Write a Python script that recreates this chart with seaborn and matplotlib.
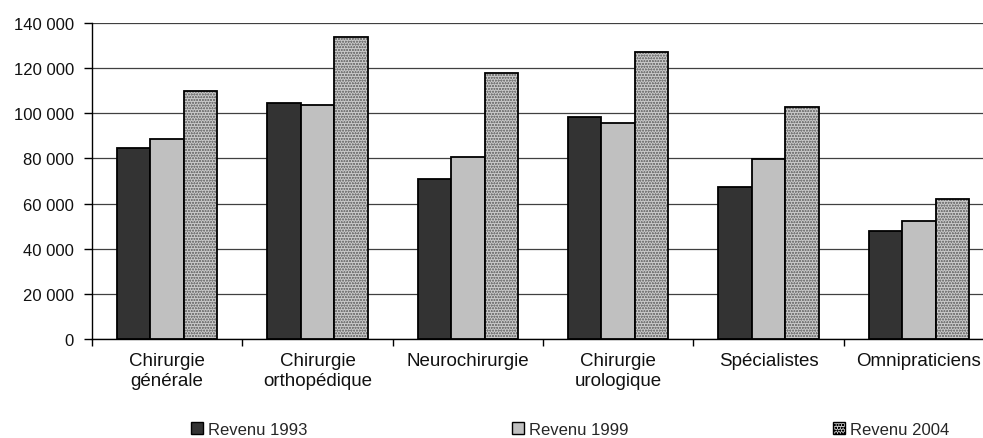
import matplotlib
matplotlib.use("Agg")
import matplotlib.pyplot as plt
from matplotlib.patches import Rectangle
from matplotlib.ticker import FuncFormatter, FixedLocator
import seaborn as sns
import pandas as pd

# Revenus moyens par catégorie de médecins
categories = ["Chirurgie\ngénérale", "Chirurgie\northopédique", "Neurochirurgie",
              "Chirurgie\nurologique", "Spécialistes", "Omnipraticiens"]
series = ["Revenu 1993", "Revenu 1999", "Revenu 2004"]
revenu_1993 = [84500, 104700, 71000, 98500, 67500, 48000]
revenu_1999 = [88800, 103800, 80800, 95800, 79800, 52300]
revenu_2004 = [110000, 134000, 118000, 127200, 103000, 62000]
y_ticks = [0, 20000, 40000, 60000, 80000, 100000, 120000, 140000]

df = pd.DataFrame({
    "categorie": categories * 3,
    "serie": [s for s in series for _ in categories],
    "revenu": revenu_1993 + revenu_1999 + revenu_2004,
})

sns.set_theme(style="white")
plt.rcParams["font.family"] = ["Liberation Sans", "DejaVu Sans"]
plt.rcParams["hatch.linewidth"] = 0.5

fig = plt.figure(figsize=(9.83, 4.39), dpi=100)
ax = fig.add_axes([0.0936, 0.2255, 0.9176, 0.7198])

colors = ["#333333", "#c0c0c0", "#b4b4b4"]
sns.barplot(data=df, x="categorie", y="revenu", hue="serie", palette=colors,
            order=categories, hue_order=series, width=0.667, gap=0,
            edgecolor="black", linewidth=1.3, saturation=1, ax=ax, legend=False,
            zorder=3)

# Fine dotted texture on the 2004 bars, outline drawn on top
for bar in ax.containers[2]:
    bar.set_facecolor("#c8c8c8")
    bar.set_edgecolor("#7a7a7a")
    bar.set_hatch("oooooo")
    bar.set_linewidth(0)
    x, y = bar.get_xy()
    ax.add_patch(Rectangle((x, y), bar.get_width(), bar.get_height(),
                           fill=False, edgecolor="black", linewidth=1.3, zorder=4))

ax.set_ylim(0, 140000)
ax.set_xlim(-0.5, len(categories) - 0.5)
ax.yaxis.set_major_locator(FixedLocator(y_ticks))
ax.yaxis.set_major_formatter(FuncFormatter(lambda v, p: f"{v:,.0f}".replace(",", " ")))
ax.grid(axis="y", color="#404040", linewidth=0.9, zorder=0)
ax.set_axisbelow(True)

ax.set_xlabel("")
ax.set_ylabel("")
ax.set_xticks(range(len(categories)))
ax.set_xticklabels(categories, fontsize=13.5, color="#111111", linespacing=1.3)
ax.set_xticks([i - 0.5 for i in range(len(categories) + 1)], minor=True)
ax.tick_params(axis="x", which="major", length=0, pad=9)
ax.tick_params(axis="x", which="minor", length=5, width=1, color="black", direction="out", bottom=True)
ax.tick_params(axis="y", length=6, width=1, color="black", direction="out",
               labelsize=12, labelcolor="#111111", pad=7, left=True)

for side in ["top", "right"]:
    ax.spines[side].set_visible(False)
for side in ["left", "bottom"]:
    ax.spines[side].set_color("black")
    ax.spines[side].set_linewidth(1)

handles = [Rectangle((0, 0), 1, 1, facecolor="#333333", edgecolor="black", linewidth=1),
           Rectangle((0, 0), 1, 1, facecolor="#c0c0c0", edgecolor="black", linewidth=1),
           Rectangle((0, 0), 1, 1, facecolor="#c8c8c8", edgecolor="black", hatch="oooooo", linewidth=1)]
fig.legend(handles, series, loc="center", bbox_to_anchor=(0.58, 0.02), ncol=3,
           frameon=False, fontsize=12, handlelength=0.7, handleheight=0.7,
           handletextpad=0.3, columnspacing=12.3)

fig.savefig("out.png", dpi=100)
